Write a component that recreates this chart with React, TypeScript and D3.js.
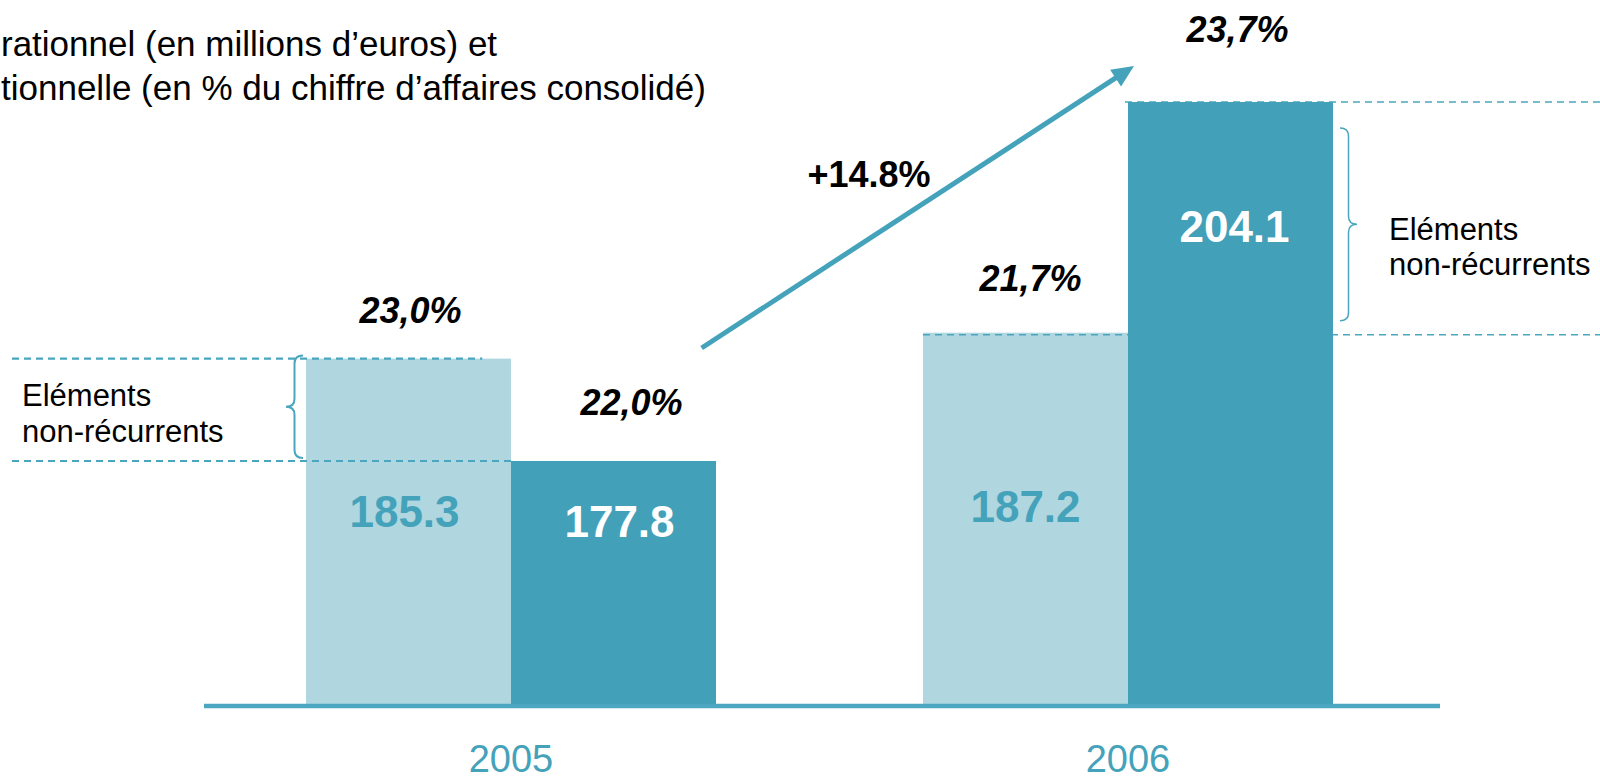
import React from 'react';
import * as d3 from 'd3';

// data
const years = ['2005', '2006'];
const reported = [185.3, 187.2];   // light bars
const current = [177.8, 204.1];    // dark bars
const reportedMargin = ['23,0%', '21,7%'];
const currentMargin = ['22,0%', '23,7%'];
const growthLabel = '+14.8%';
const titleLines = [
  'rationnel (en millions d\u2019euros) et',
  'tionnelle (en % du chiffre d\u2019affaires consolid\u00e9)',
];
const braceText = ['El\u00e9ments', 'non-r\u00e9currents'];

const W = 1600;
const H = 781;
const LIGHT = '#b0d7df';
const DARK = '#42a0b9';
const TEAL = '#44a2ba';
const FONT = '"Liberation Sans", Arial, Helvetica, sans-serif';

const x = d3.scaleBand().domain(years).range([306, 1333]).paddingInner(0.3355).paddingOuter(0);
const sub = d3.scaleBand().domain(['reported', 'current']).range([0, x.bandwidth()]);
const y = d3.scaleLinear().domain([159.85, 204.1]).range([706, 102]);

// brace path: dir = -1 tip points left, +1 tip points right
function brace(xEnd: number, y0: number, y1: number, dir: number, depth: number) {
  const mid = xEnd + (dir * depth) / 2;
  const tip = xEnd + dir * depth;
  const my = (y0 + y1) / 2;
  const r = 8;
  const p = d3.path();
  p.moveTo(xEnd, y0);
  p.quadraticCurveTo(mid, y0, mid, y0 + r);
  p.lineTo(mid, my - r);
  p.quadraticCurveTo(mid, my, tip, my);
  p.quadraticCurveTo(mid, my, mid, my + r);
  p.lineTo(mid, y1 - r);
  p.quadraticCurveTo(mid, y1, xEnd, y1);
  return p.toString();
}

export default function App() {
  const bx = (i: number, k: 'reported' | 'current') => (x(years[i]) as number) + (sub(k) as number);
  const bw = sub.bandwidth();
  const base = y.range()[0];

  // arrow from 2005 group to top of 2006
  const ax0 = bx(0, 'current') + bw * 0.93;
  const ay0 = y(current[0]) - 113;
  const ax1 = bx(1, 'current') + 6;
  const ay1 = y(current[1]) - 36;
  const ang = Math.atan2(ay1 - ay0, ax1 - ax0);
  const headL = 22;
  const headW = 10;
  const hbx = ax1 - headL * Math.cos(ang);
  const hby = ay1 - headL * Math.sin(ang);
  const head = [
    [ax1, ay1],
    [hbx + headW * Math.sin(ang), hby - headW * Math.cos(ang)],
    [hbx - headW * Math.sin(ang), hby + headW * Math.cos(ang)],
  ];

  const dash = { stroke: '#4aa6be', strokeDasharray: '7 5', fill: 'none' };

  return (
    <svg width={W} height={H} style={{ position: 'absolute', left: 0, top: 0, background: '#fff' }} fontFamily={FONT}>
      {/* title (cut at left edge like the slide) */}
      {titleLines.map((t, i) => (
        <text key={t} x={1} y={56 + i * 44} fontSize={35} fill="#000">{t}</text>
      ))}

      {/* light bars */}
      {years.map((yr, i) => (
        <rect key={'r' + yr} x={bx(i, 'reported')} y={y(reported[i])} width={bw} height={base - y(reported[i])} fill={LIGHT} />
      ))}

      {/* dashed guides for non-recurring items */}
      <line x1={12} x2={bx(0, 'reported') + bw * 0.86} y1={y(reported[0])} y2={y(reported[0])} {...dash} strokeWidth={2.2} />
      <line x1={12} x2={bx(0, 'current')} y1={y(current[0])} y2={y(current[0])} {...dash} strokeWidth={2.2} />
      <line x1={bx(1, 'reported')} x2={W} y1={y(reported[1]) + 2} y2={y(reported[1]) + 2} {...dash} strokeWidth={1.6} />
      <line x1={bx(1, 'current') - 3} x2={W} y1={y(current[1])} y2={y(current[1])} {...dash} strokeWidth={1.6} />

      {/* dark bars */}
      {years.map((yr, i) => (
        <rect key={'c' + yr} x={bx(i, 'current')} y={y(current[i])} width={bw} height={base - y(current[i])} fill={DARK} />
      ))}

      {/* baseline */}
      <line x1={204} x2={1440} y1={base} y2={base} stroke="#4aa7bf" strokeWidth={4.5} />

      {/* values in bars */}
      <text x={bx(0, 'reported') + bw / 2 - 4} y={527} textAnchor="middle" fontSize={44} fontWeight="bold" fill={TEAL}>{reported[0].toFixed(1)}</text>
      <text x={bx(0, 'current') + bw / 2 + 6} y={537} textAnchor="middle" fontSize={44} fontWeight="bold" fill="#fff">{current[0].toFixed(1)}</text>
      <text x={bx(1, 'reported') + bw / 2} y={522} textAnchor="middle" fontSize={44} fontWeight="bold" fill={TEAL}>{reported[1].toFixed(1)}</text>
      <text x={bx(1, 'current') + bw / 2 + 4} y={242} textAnchor="middle" fontSize={44} fontWeight="bold" fill="#fff">{current[1].toFixed(1)}</text>

      {/* margins */}
      <text x={bx(0, 'reported') + bw / 2 + 2} y={y(reported[0]) - 36} textAnchor="middle" fontSize={36} fontWeight="bold" fontStyle="italic">{reportedMargin[0]}</text>
      <text x={bx(0, 'current') + bw / 2 + 18} y={y(current[0]) - 46} textAnchor="middle" fontSize={36} fontWeight="bold" fontStyle="italic">{currentMargin[0]}</text>
      <text x={bx(1, 'reported') + bw / 2 + 5} y={y(reported[1]) - 42} textAnchor="middle" fontSize={36} fontWeight="bold" fontStyle="italic">{reportedMargin[1]}</text>
      <text x={bx(1, 'current') + bw / 2 + 7} y={y(current[1]) - 60} textAnchor="middle" fontSize={36} fontWeight="bold" fontStyle="italic">{currentMargin[1]}</text>

      {/* growth arrow */}
      <line x1={ax0} y1={ay0} x2={hbx + 2 * Math.cos(ang)} y2={hby + 2 * Math.sin(ang)} stroke="#44a3bb" strokeWidth={5} />
      <polygon points={head.map((p) => p.join(',')).join(' ')} fill="#44a3bb" />
      <text x={869} y={187} textAnchor="middle" fontSize={36} fontWeight="bold">{growthLabel}</text>

      {/* braces + notes */}
      <path d={brace(303, y(reported[0]) - 3, y(current[0]) - 3, -1, 17)} stroke="#4aa6be" strokeWidth={2} fill="none" />
      {braceText.map((t, i) => (
        <text key={'l' + t} x={22} y={406 + i * 36} fontSize={31} fill="#000">{t}</text>
      ))}
      <path d={brace(1340, y(current[1]) + 26, y(reported[1]) - 12, 1, 17)} stroke="#4aa6be" strokeWidth={1.5} fill="none" />
      {braceText.map((t, i) => (
        <text key={'r' + t} x={1389} y={240 + i * 35} fontSize={31} fill="#000">{t}</text>
      ))}

      {/* year labels */}
      {years.map((yr) => (
        <text key={'y' + yr} x={(x(yr) as number) + x.bandwidth() / 2} y={772} textAnchor="middle" fontSize={38} fill={TEAL}>{yr}</text>
      ))}
    </svg>
  );
}
